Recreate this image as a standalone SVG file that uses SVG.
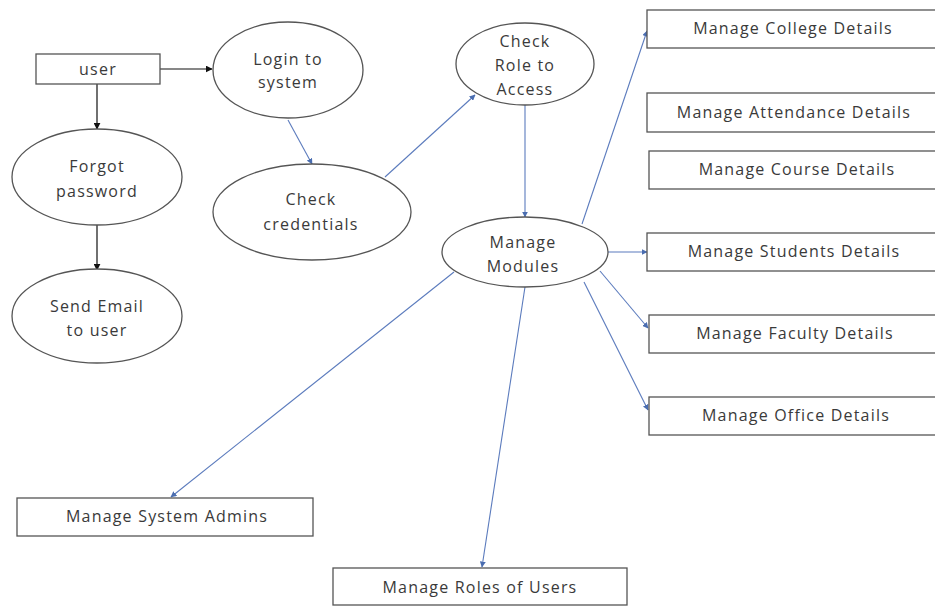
<svg xmlns="http://www.w3.org/2000/svg" width="935" height="606" viewBox="0 0 935 606">
<defs>
<style>
.n ellipse,.n rect{fill:#fff;stroke:#555;stroke-width:1.3}
text{font-family:"Open Sans","Liberation Sans",sans-serif;font-size:16px;letter-spacing:1.2px;fill:#3a3a3a;text-anchor:middle}
.k{stroke:#111;stroke-width:1.2;fill:none}
.b{stroke:#5b7bbd;stroke-width:1.1;fill:none}
</style>
<marker id="ak" viewBox="0 0 10 10" refX="9" refY="5" markerWidth="7" markerHeight="7" markerUnits="userSpaceOnUse" orient="auto"><path d="M0,0L10,5L0,10z" fill="#111"/></marker>
<marker id="ab" viewBox="0 0 10 10" refX="9" refY="5" markerWidth="6" markerHeight="6" markerUnits="userSpaceOnUse" orient="auto"><path d="M0,0L10,5L0,10z" fill="#4a6db0"/></marker>
</defs>
<rect width="935" height="606" fill="#fff"/>
<g id="connectors">
<line class="k" x1="160" y1="69" x2="212" y2="69" marker-end="url(#ak)"/>
<line class="k" x1="97" y1="84" x2="97" y2="129" marker-end="url(#ak)"/>
<line class="k" x1="97" y1="225" x2="97" y2="270" marker-end="url(#ak)"/>
<line class="b" x1="288" y1="120" x2="312" y2="164" marker-end="url(#ab)"/>
<line class="b" x1="385" y1="177" x2="475" y2="95" marker-end="url(#ab)"/>
<line class="b" x1="525" y1="105" x2="525" y2="217" marker-end="url(#ab)"/>
<line class="b" x1="582" y1="224" x2="647" y2="31" marker-end="url(#ab)"/>
<line class="b" x1="607" y1="252" x2="647" y2="252" marker-end="url(#ab)"/>
<line class="b" x1="600" y1="271" x2="648" y2="328" marker-end="url(#ab)"/>
<line class="b" x1="584" y1="282" x2="648" y2="410" marker-end="url(#ab)"/>
<line class="b" x1="454" y1="272" x2="171" y2="497" marker-end="url(#ab)"/>
<line class="b" x1="525" y1="287" x2="482" y2="567" marker-end="url(#ab)"/>
</g>
<g id="user" class="n"><rect x="36" y="54" width="124" height="30"/><text x="98" y="75">user</text></g>
<g id="login" class="n"><ellipse cx="288" cy="70" rx="75" ry="48"/><text x="288" y="65">Login to</text><text x="288" y="88">system</text></g>
<g id="forgot" class="n"><ellipse cx="97" cy="177" rx="85" ry="48"/><text x="97" y="172">Forgot</text><text x="97" y="197">password</text></g>
<g id="sendemail" class="n"><ellipse cx="97" cy="316" rx="85" ry="47"/><text x="97" y="312">Send Email</text><text x="97" y="336">to user</text></g>
<g id="checkcred" class="n"><ellipse cx="312" cy="212" rx="99" ry="48"/><text x="311" y="205">Check</text><text x="311" y="230">credentials</text></g>
<g id="checkrole" class="n"><ellipse cx="525" cy="64" rx="69" ry="41"/><text x="525" y="47">Check</text><text x="525" y="71">Role to</text><text x="525" y="95">Access</text></g>
<g id="modules" class="n"><ellipse cx="525" cy="252" rx="83" ry="35"/><text x="523" y="248">Manage</text><text x="523" y="272">Modules</text></g>
<g id="college" class="n"><rect x="647" y="10" width="300" height="38"/><text x="793" y="34">Manage College Details</text></g>
<g id="attendance" class="n"><rect x="647" y="93" width="300" height="39"/><text x="794" y="118">Manage Attendance Details</text></g>
<g id="course" class="n"><rect x="649" y="151" width="300" height="38"/><text x="797" y="175">Manage Course Details</text></g>
<g id="students" class="n"><rect x="647" y="233" width="300" height="38"/><text x="794" y="257">Manage Students Details</text></g>
<g id="faculty" class="n"><rect x="649" y="315" width="300" height="38"/><text x="795" y="339">Manage Faculty Details</text></g>
<g id="office" class="n"><rect x="649" y="397" width="300" height="38"/><text x="796" y="421">Manage Office Details</text></g>
<g id="sysadmins" class="n"><rect x="17" y="498" width="296" height="38"/><text x="167" y="522">Manage System Admins</text></g>
<g id="roles" class="n"><rect x="333" y="568" width="294" height="37"/><text x="480" y="593">Manage Roles of Users</text></g>
</svg>
